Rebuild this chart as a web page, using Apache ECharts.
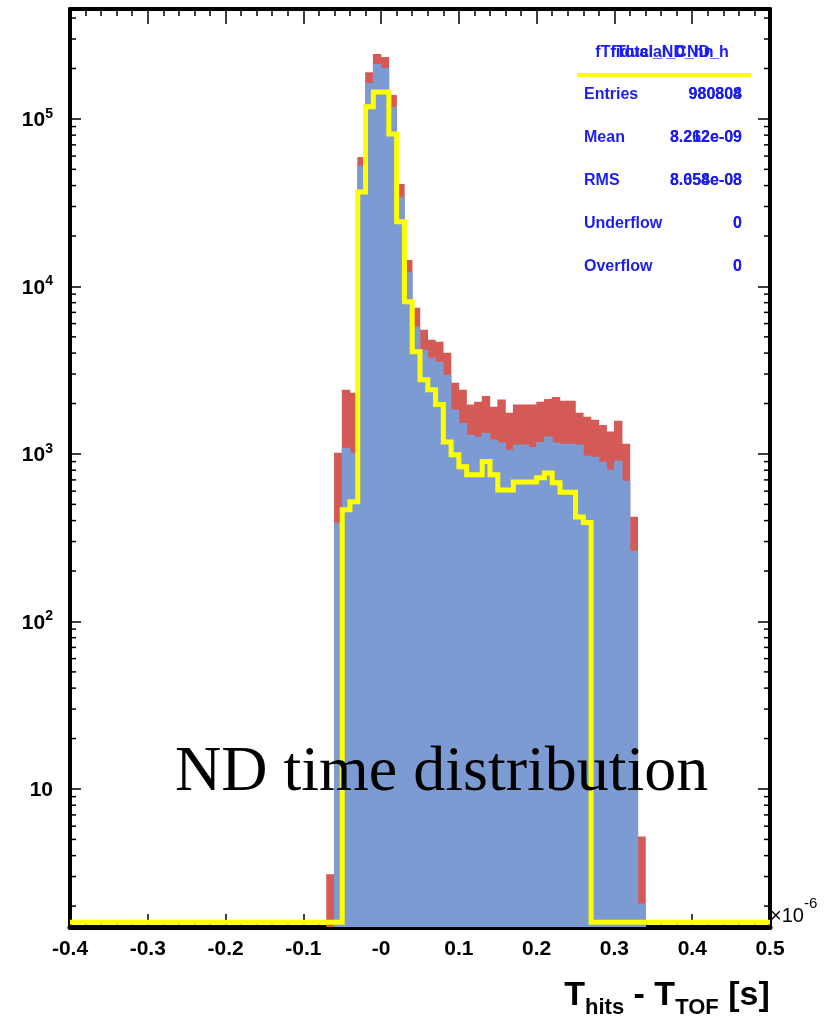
<!DOCTYPE html>
<html>
<head>
<meta charset="utf-8">
<script src="https://cdn.jsdelivr.net/npm/echarts@6/dist/echarts.min.js"></script>
<style>
html, body { margin: 0; padding: 0; background: #fff; }
#chart { width: 837px; height: 1024px; }
</style>
</head>
<body>
<div id="chart"></div>
<script>
// bins are 0.01 wide (x 1e-6 s), from -0.40 to 0.50
var binLow = -0.4;
var binWidth = 0.01;
var nBins = 90;

// red histogram, starts at bin [-0.07,-0.06] (index 33)
var redFirst = 33;
var redCounts = [3.1, 1016, 2415, 2320, 59300, 190000, 244000, 234000, 139000, 40900,
    14400, 7450, 5510, 4800, 4670, 4020, 2660, 2420, 1970, 2050,
    2220, 1910, 2110, 1760, 1970, 1970, 1970, 2050, 2130, 2190,
    2080, 2080, 1760, 1670, 1600, 1490, 1360, 1580, 1150, 422, 5.2];

// blue histogram, same bins as red
var blueFirst = 33;
var blueCounts = [0, 388, 1089, 1016, 52500, 164000, 213000, 201000, 118000, 34300,
    12200, 5740, 4190, 3750, 3550, 2970, 1840, 1530, 1300, 1270,
    1340, 1220, 1170, 1060, 1140, 1140, 1100, 1180, 1270, 1170,
    1150, 1150, 1140, 975, 962, 898, 805, 910, 692, 264, 2.07];

// yellow outline, starts at bin [-0.05,-0.04] (index 35)
var yellowFirst = 35;
var yellowCounts = [465, 519, 36600, 118000, 145000, 145000, 81300, 24300, 8090, 4070,
    2770, 2420, 1970, 1180, 990, 840, 750, 750, 900, 750,
    610, 610, 680, 680, 680, 720, 770, 673, 590, 590, 420, 390];

var xTickLabels = ['-0.4', '-0.3', '-0.2', '-0.1', '-0', '0.1', '0.2', '0.3', '0.4', '0.5'];
var yDecades = [10, 100, 1000, 10000, 100000];

var statNames = ['Entries', 'Mean', 'RMS', 'Underflow', 'Overflow'];
var statValuesA = ['980808', '8.262e-09', '8.058e-08', '0', '0'];
var statValuesB = ['980804', '3.212e-09', '8.654e-08', '0', '0'];
var statTitles = ['fTfiducial_CND_h', 'fTotal_ND_hn'];

var xMin = -0.4, xMax = 0.5, xStep = 0.1;
var yMin = 1.5, yMax = 453000;
var zeroLevel = 1.6; // empty bins of the outline sit on the frame

var font = '"Liberation Sans", Arial, sans-serif';
var statBlue = '#1c1cf5';
var redColor = '#d55a56';
var blueColor = '#7c9bd2';

function fill(arr, first) {
    var out = [];
    for (var i = 0; i < nBins; i++) {
        var v = (i >= first && i < first + arr.length) ? arr[i - first] : 0;
        out.push(v > 0 ? v : null);
    }
    return out;
}

var categories = [];
for (var i = 0; i < nBins; i++) categories.push((binLow + i * binWidth).toFixed(2));

var red = fill(redCounts, redFirst);
var blue = fill(blueCounts, blueFirst);
var yel = fill(yellowCounts, yellowFirst);

var yellowLine = [];
for (var i = 0; i < nBins; i++) yellowLine.push([binLow + i * binWidth, yel[i] || zeroLevel]);
yellowLine.push([binLow + nBins * binWidth, yel[nBins - 1] || zeroLevel]);

// log minor ticks 2..9 per decade
var minorY = [];
for (var d = 1; d <= 100000; d *= 10) {
    for (var m = 2; m <= 9; m++) {
        var v = m * d;
        if (v > yMin && v < yMax) minorY.push([xMin, v]);
    }
}

function yLabel(v) {
    var e = Math.round(Math.log10(v));
    if (Math.abs(Math.log10(v) - e) > 1e-6 || yDecades.indexOf(Math.pow(10, e)) < 0) return '';
    if (e === 1) return '{b|10}';
    return '{b|10}{s|' + e + '}';
}

var dom = document.getElementById('chart');
var myChart = echarts.init(dom, null, { renderer: 'canvas' });

var tickStyle = { color: '#000', width: 1.5 };

var graphics = [];
// stats box
statTitles.forEach(function (t) {
    graphics.push({
        type: 'text', x: 662, y: 53, z: 100,
        style: { text: t, font: 'bold 16px ' + font, fill: statBlue, align: 'center', verticalAlign: 'middle', textAlign: 'center', textVerticalAlign: 'middle' }
    });
});
graphics.push({
    type: 'line', z: 100,
    shape: { x1: 577, y1: 75, x2: 751, y2: 75 },
    style: { stroke: '#ffff00', lineWidth: 4 }
});
statNames.forEach(function (n, i) {
    var y = 95 + i * 43;
    graphics.push({
        type: 'text', x: 584, y: y, z: 100,
        style: { text: n, font: 'bold 16px ' + font, fill: statBlue, align: 'left', verticalAlign: 'middle', textAlign: 'left', textVerticalAlign: 'middle' }
    });
    [statValuesA[i], statValuesB[i]].forEach(function (s) {
        graphics.push({
            type: 'text', x: 742, y: y, z: 100,
            style: { text: s, font: 'bold 16px ' + font, fill: statBlue, align: 'right', verticalAlign: 'middle', textAlign: 'right', textVerticalAlign: 'middle' }
        });
    });
});
// big caption
graphics.push({
    type: 'text', x: 175, y: 773, z: 100,
    style: { text: 'ND time distribution', font: '64px "Liberation Serif", "Times New Roman", serif', fill: '#000', align: 'left', verticalAlign: 'middle', textAlign: 'left', textVerticalAlign: 'middle' }
});
// x axis title
graphics.push({
    type: 'text', x: 770, y: 979, z: 100,
    style: {
        text: '{m|T}{s|hits}{m| - T}{s|TOF}{m| [s]}{z| }',
        align: 'right', verticalAlign: 'top', textAlign: 'right', textVerticalAlign: 'top',
        fill: '#000',
        rich: {
            m: { fontFamily: font, fontWeight: 'bold', fontSize: 34, lineHeight: 34, verticalAlign: 'top' },
            s: { fontFamily: font, fontWeight: 'bold', fontSize: 22, lineHeight: 22, verticalAlign: 'bottom' },
            z: { fontSize: 1, lineHeight: 40 }
        }
    }
});
// exponent of x axis
graphics.push({
    type: 'text', x: 770, y: 896, z: 100,
    style: {
        text: '{a|\u00d710}{b|-6}{z| }',
        align: 'left', verticalAlign: 'top', textAlign: 'left', textVerticalAlign: 'top',
        fill: '#000',
        rich: {
            a: { fontFamily: font, fontSize: 20, lineHeight: 20, verticalAlign: 'bottom' },
            b: { fontFamily: font, fontSize: 15, lineHeight: 15, verticalAlign: 'top' },
            z: { fontSize: 1, lineHeight: 30 }
        }
    }
});

var option = {
    animation: false,
    backgroundColor: '#fff',
    grid: { left: 70, right: 67, top: 9, bottom: 97, containLabel: false, outerBoundsMode: 'none' },
    xAxis: [
        { type: 'category', data: categories, show: false },
        {
            type: 'value', position: 'bottom', min: xMin, max: xMax, interval: xStep,
            axisLine: { show: true, onZero: false, lineStyle: { color: '#000', width: 5 } },
            axisTick: { show: true, inside: true, length: 13, lineStyle: tickStyle },
            minorTick: { show: true, splitNumber: 5, length: 6, lineStyle: tickStyle },
            splitLine: { show: false },
            axisLabel: {
                margin: 12, color: '#000', fontFamily: font, fontWeight: 'bold', fontSize: 21,
                formatter: function (v) { return xTickLabels[Math.round((v - xMin) / xStep)] || ''; }
            }
        },
        {
            type: 'value', position: 'top', min: xMin, max: xMax, interval: xStep,
            axisLine: { show: true, onZero: false, lineStyle: { color: '#000', width: 4 } },
            axisTick: { show: true, inside: true, length: 15, lineStyle: tickStyle },
            minorTick: { show: true, splitNumber: 5, length: 7, lineStyle: tickStyle },
            splitLine: { show: false },
            axisLabel: { show: false }
        }
    ],
    yAxis: [
        {
            type: 'log', logBase: 10, min: yMin, max: yMax, position: 'left',
            axisLine: { show: true, onZero: false, lineStyle: { color: '#000', width: 4 } },
            axisTick: { show: true, inside: true, length: 11, lineStyle: tickStyle },
            splitLine: { show: false },
            axisLabel: {
                margin: 17, color: '#000', formatter: yLabel,
                rich: {
                    b: { fontFamily: font, fontWeight: 'bold', fontSize: 21, lineHeight: 24, verticalAlign: 'bottom', color: '#000' },
                    s: { fontFamily: font, fontWeight: 'bold', fontSize: 14, lineHeight: 14, verticalAlign: 'top', color: '#000' }
                }
            }
        },
        {
            type: 'log', logBase: 10, min: yMin, max: yMax, position: 'right',
            axisLine: { show: true, onZero: false, lineStyle: { color: '#000', width: 4 } },
            axisTick: { show: true, inside: true, length: 12, lineStyle: tickStyle },
            splitLine: { show: false },
            axisLabel: { show: false }
        }
    ],
    series: [
        {
            type: 'bar', xAxisIndex: 0, yAxisIndex: 0, data: red,
            barWidth: 8.4, barGap: '-100%',
            itemStyle: { color: redColor }, silent: true
        },
        {
            type: 'bar', xAxisIndex: 0, yAxisIndex: 0, data: blue,
            barWidth: 8.6, barGap: '-100%',
            itemStyle: { color: blueColor }, silent: true
        },
        {
            type: 'line', xAxisIndex: 1, yAxisIndex: 0, data: yellowLine,
            step: 'end', showSymbol: false, symbol: 'none', z: 5, silent: true,
            lineStyle: { color: '#ffff00', width: 5, join: 'miter' }
        },
        {
            type: 'custom', xAxisIndex: 1, yAxisIndex: 0, data: minorY, silent: true,
            renderItem: function (params, api) {
                var y = api.coord([xMin, api.value(1)])[1];
                var cs = params.coordSys;
                return {
                    type: 'group',
                    children: [
                        { type: 'line', shape: { x1: cs.x, y1: y, x2: cs.x + 6, y2: y }, style: { stroke: '#000', lineWidth: 1.5 } },
                        { type: 'line', shape: { x1: cs.x + cs.width, y1: y, x2: cs.x + cs.width - 6, y2: y }, style: { stroke: '#000', lineWidth: 1.5 } }
                    ]
                };
            }
        }
    ],
    graphic: graphics
};

if (option && typeof option === 'object') {
    myChart.setOption(option);
}
</script>
</body>
</html>
